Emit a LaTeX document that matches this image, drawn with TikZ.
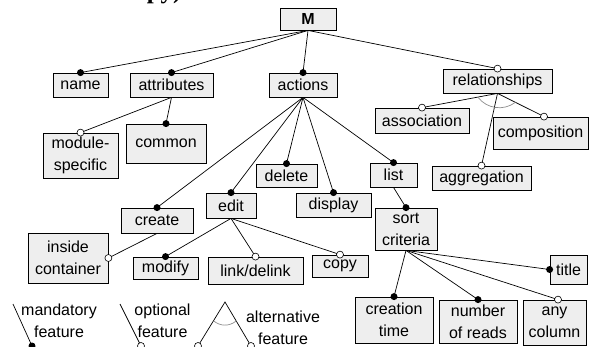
\documentclass[tikz,border=0pt]{standalone}
\usepackage{fontspec}
\setmainfont{Liberation Sans}
\newfontfamily\headserif{Liberation Serif}
\usetikzlibrary{calc}
\definecolor{boxfill}{HTML}{EEEEEE}
\definecolor{arcgray}{HTML}{8C8C8C}

\begin{document}
\begin{tikzpicture}[x=1pt,y=-1pt,
  fbox/.style={draw=black, fill=boxfill, line width=0.8pt, inner sep=0pt,
    align=center, font=\fontsize{16}{22}\selectfont},
  link/.style={line width=0.7pt},
  legendtxt/.style={font=\fontsize{16}{22}\selectfont, align=center, inner sep=0pt},
  altarc/.style={draw=arcgray, line width=0.7pt}]

\useasboundingbox (0,0) rectangle (593,347);

% tail of the sentence above the figure
\node[anchor=base east, inner sep=0pt,
  font=\headserif\bfseries\fontsize{25}{30}\selectfont] (caption) at (188,-1) {the case of copy).};

% feature boxes
\node[fbox, minimum width=56pt, minimum height=22pt] (M) at (308,19) {\textbf{M}};
\node[fbox, minimum width=55pt, minimum height=24pt] (name) at (80.5,85) {name};
\node[fbox, minimum width=83pt, minimum height=24pt] (attr) at (171.5,85) {attributes};
\node[fbox, minimum width=68pt, minimum height=24pt] (actions) at (303,85) {actions};
\node[fbox, minimum width=109pt, minimum height=24pt] (rel) at (497.5,81) {relationships};
\node[fbox, minimum width=75pt, minimum height=45pt] (modspec) at (80.5,155.5) {module-\\specific};
\node[fbox, minimum width=80pt, minimum height=39pt] (common) at (166,143.5) {common};
\node[fbox, minimum width=94pt, minimum height=25pt] (assoc) at (422,120.5) {association};
\node[fbox, minimum width=95pt, minimum height=32pt] (comp) at (540.5,133) {composition};
\node[fbox, minimum width=99pt, minimum height=24pt] (aggr) at (481.5,178) {aggregation};
\node[fbox, minimum width=61pt, minimum height=23pt] (delete) at (286.5,175.5) {delete};
\node[fbox, minimum width=50pt, minimum height=25pt] (edit) at (231,205.5) {edit};
\node[fbox, minimum width=72pt, minimum height=25pt] (create) at (157,220.5) {create};
\node[fbox, minimum width=75pt, minimum height=24pt] (display) at (333.5,205) {display};
\node[fbox, minimum width=47pt, minimum height=24pt] (list) at (393.5,175) {list};
\node[fbox, minimum width=62pt, minimum height=42pt] (sort) at (406,229) {sort\\criteria};
\node[fbox, minimum width=80pt, minimum height=50pt] (inside) at (68,258) {inside\\container};
\node[fbox, minimum width=65pt, minimum height=22pt] (modify) at (165.5,268) {modify};
\node[fbox, minimum width=95pt, minimum height=27pt] (linkdel) at (255.5,270.5) {link/delink};
\node[fbox, minimum width=56pt, minimum height=22pt] (copy) at (340,266) {copy};
\node[fbox, minimum width=37pt, minimum height=29pt] (title) at (568.5,269.5) {title};
\node[fbox, minimum width=78pt, minimum height=46pt] (ctime) at (394,320) {creation\\time};
\node[fbox, minimum width=78pt, minimum height=43pt] (nreads) at (478,321.5) {number\\of reads};
\node[fbox, minimum width=63pt, minimum height=45pt] (anycol) at (554.5,322.5) {any\\column};

% end points of edges that meet a box off its top centre
\coordinate (compTop) at ([xshift=3.5pt]comp.north);
\coordinate (anyTop) at ([xshift=3.5pt]anycol.north);

% connectors
\draw[link] (M.south) -- (name.north);
\draw[link] (M.south) -- (attr.north);
\draw[link] (M.south) -- (actions.north);
\draw[link] (M.south) -- (rel.north);
\draw[link] (attr.south) -- (modspec.north);
\draw[link] (attr.south) -- (common.north);
\draw[link] (rel.south) -- (assoc.north);
\draw[link] (rel.south) -- (aggr.north);
\draw[link] (rel.south) -- (compTop);
\draw[link] (actions.south) -- (create.north);
\draw[link] (actions.south) -- (edit.north);
\draw[link] (actions.south) -- (delete.north);
\draw[link] (actions.south) -- (display.north);
\draw[link] (actions.south) -- (list.north);
\draw[link] (list.south) -- (sort.north);
\draw[link] (create.south) -- (inside.east);
\draw[link] (edit.south) -- (modify.north);
\draw[link] (edit.south) -- (linkdel.north);
\draw[link] (edit.south) -- (copy.north);
\draw[link] (sort.south) -- (title.west);
\draw[link] (sort.south) -- (ctime.north);
\draw[link] (sort.south) -- (nreads.north);
\draw[link] (sort.south) -- (anyTop);

% alternative group arc under relationships
\draw[altarc] ($(rel.south)!20pt!(assoc.north)$) to[bend right=45] ($(rel.south)!20pt!(compTop)$);

% mandatory markers
\foreach \p in {name.north, attr.north, actions.north, common.north,
  create.north, edit.north, delete.north, display.north, list.north,
  sort.north, modify.north, title.west, ctime.north, nreads.north}
  \fill (\p) circle[radius=3.5pt];

% optional markers
\foreach \p in {rel.north, modspec.north, assoc.north, aggr.north, compTop,
  inside.east, linkdel.north, copy.north, anyTop}
  \filldraw[fill=white, draw=black, line width=0.6pt] (\p) circle[radius=3.5pt];

% legend
\coordinate (mandTop) at (13,304);
\coordinate (mandEnd) at (32,346);
\draw[link] (mandTop) -- (mandEnd);
\fill (mandEnd) circle[radius=3.5pt];
\node[legendtxt] (mandTxt) at (59,321) {mandatory\\feature};

\coordinate (optTop) at (120,304);
\coordinate (optEnd) at (141,346);
\draw[link] (optTop) -- (optEnd);
\filldraw[fill=white, draw=black, line width=0.6pt] (optEnd) circle[radius=3.5pt];
\node[legendtxt] (optTxt) at (162.5,321) {optional\\feature};

\coordinate (altTop) at (225,302);
\coordinate (altLeft) at (198,346);
\coordinate (altRight) at (251,346);
\draw[link] (altLeft) -- (altTop) -- (altRight);
\draw[altarc] ($(altTop)!22pt!(altLeft)$) to[bend right=40] ($(altTop)!22pt!(altRight)$);
\filldraw[fill=white, draw=black, line width=0.6pt] (altLeft) circle[radius=3.5pt];
\filldraw[fill=white, draw=black, line width=0.6pt] (altRight) circle[radius=3.5pt];
\node[legendtxt] (altTxt) at (283,328) {alternative\\feature};
\end{tikzpicture}
\end{document}
